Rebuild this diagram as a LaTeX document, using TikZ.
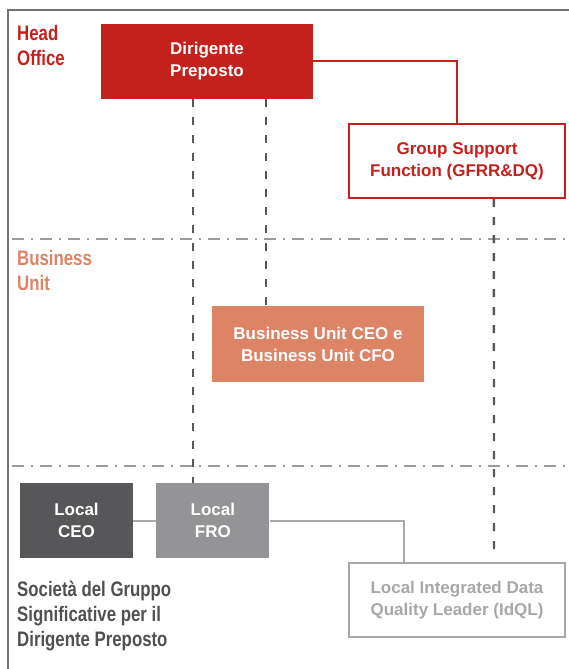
\documentclass[tikz,border=0pt]{standalone}
\usepackage{fontspec}
\setmainfont{Liberation Sans}
\newfontfamily\condfont[FakeStretch=0.8]{Liberation Sans}
\usepackage{tikz}
\usetikzlibrary{positioning}
\definecolor{hored}{HTML}{C4211C}
\definecolor{busalmon}{HTML}{DD8366}
\definecolor{ceogray}{HTML}{575759}
\definecolor{frogray}{HTML}{949496}
\definecolor{idqlgray}{HTML}{A8A8A8}
\definecolor{framegray}{HTML}{727272}
\definecolor{dashgray}{HTML}{575757}
\definecolor{sepgray}{HTML}{9A9A9A}
\definecolor{socgray}{HTML}{505050}

\begin{document}
\begin{tikzpicture}[x=1pt, y=-1pt, node distance=23pt,
  box/.style={rectangle, minimum width=212pt, minimum height=75pt, align=center, inner sep=0pt, text=white, font=\bfseries\fontsize{17}{22}\selectfont},
  wide/.style={box, minimum width=216pt, minimum height=74pt, fill=white, line width=2.2pt},
  small/.style={box, minimum width=113pt},
  tag/.style={anchor=north west, align=left, inner sep=0pt, font=\condfont\bfseries\fontsize{21}{25}\selectfont},
  dashline/.style={dashgray, line width=2.4pt, dash pattern=on 8pt off 10pt},
  sepline/.style={sepgray, line width=1.4pt, dash pattern=on 12pt off 7pt on 2pt off 7pt},
  link/.style={line width=2pt}]
  \useasboundingbox (0,0) rectangle (569,669);

  % frame and level separators
  \draw[framegray, line width=2.6pt] (8,669) -- (8,10) -- (569,10);
  \draw[sepline] (12,239) -- (569,239);
  \draw[sepline] (12,466) -- (569,466);

  % level labels
  \node[tag, text=hored] (lhead) at (17,25.5) {Head\\Office};
  \node[tag, text=busalmon] (lbu) at (17,250) {Business\\Unit};
  \node[tag, text=socgray] (lsoc) at (17,580.5) {Società del Gruppo\\Significative per il\\Dirigente Preposto};

  % roles
  \node[box, fill=hored] (dp) at (207,61.5) {Dirigente\\Preposto};
  \node[wide, draw=hored, text=hored] (gsf) at (457,161) {Group Support\\Function (GFRR\&DQ)};
  \node[box, fill=busalmon, minimum height=76pt] (bu) at (318,344) {Business Unit CEO e\\Business Unit CFO};
  \node[small, fill=ceogray] (lceo) at (76.5,520.5) {Local\\CEO};
  \node[small, fill=frogray, right=of lceo] (lfro) {Local\\FRO};
  \node[wide, draw=idqlgray, text=idqlgray] (idql) at (457,600) {Local Integrated Data\\Quality Leader (IdQL)};
  \coordinate (gsfend) at (494,555);

  % solid links
  \draw[link, hored] (dp.east) -| (gsf.north);
  \draw[link, idqlgray] (lceo.east) -- (lfro.west);
  \draw[link, idqlgray] (lfro.east) -| ([xshift=56pt]idql.north west);

  % dashed links
  \draw[dashline] ([xshift=92pt]dp.south west) -- ([xshift=92pt]dp.south west |- lfro.north);
  \draw[dashline] ([xshift=165pt]dp.south west) -- ([xshift=165pt]dp.south west |- bu.north);
  \draw[dashline] ([xshift=146pt]gsf.south west) -- (gsfend);
\end{tikzpicture}
\end{document}
